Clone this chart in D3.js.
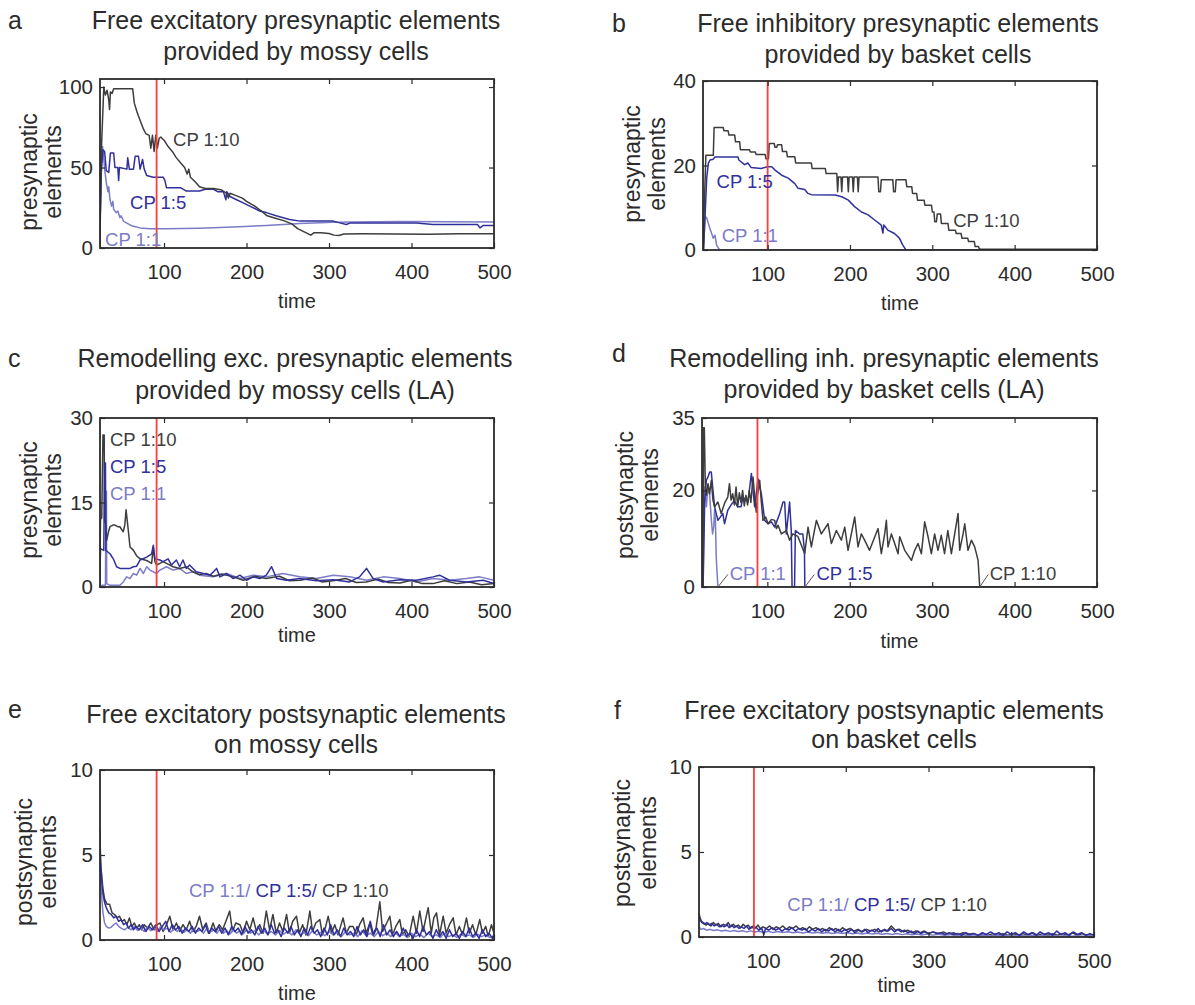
<!DOCTYPE html>
<html>
<head>
<meta charset="utf-8">
<script src="https://cdn.jsdelivr.net/npm/d3@7"></script>
<style>
  body { margin: 0; background: #fff; }
  svg { display: block; font-family: "Liberation Sans", Arial, Helvetica, sans-serif; }
</style>
</head>
<body>
<svg id="chart" width="1195" height="1005"></svg>
<script>
// ---- data: [time, elements] ----
const xTicks = [100, 200, 300, 400, 500];

// a: free excitatory presynaptic elements (mossy cells)
const aTicksY = [0, 50, 100];
const aCp10 = [[22,0],[24,60],[27,100],[29,95],[31,98],[33,92],[34,86],[35,97],[37,96],[39,99],[62,99],[64,90],[67,85],[69,82],[72,78],[75,74],[78,71],[82,70],[84,62],[86,70],[88,60],[90,70],[92,62],[94,68],[96,69],[100,67],[105,63],[110,60],[115,56],[120,53],[125,50],[128,46],[130,49],[132,44],[138,41],[143,38],[150,37],[160,37],[170,36],[176,34],[178,31],[180,34],[185,33],[195,31],[200,29],[210,26],[218,23],[225,20],[235,18.5],[245,17],[255,15],[262,12],[270,10],[278,8],[282,9.5],[290,9.4],[300,9],[306,8],[312,7.8],[318,8.7],[340,8.8],[380,8.7],[420,8.6],[460,8.8],[500,8.8]];
const aCp5 = [[22,0],[24,47],[26,61],[28,60],[30,48],[33,47],[35,59],[39,59],[40.5,50],[44,50],[45,42],[46,50],[55,49],[56,56],[58,49],[63,49],[65,57],[69,57],[71,49],[74,55],[76,49],[79,45],[87,44],[99,44],[101,42],[103,37.5],[120,37.5],[127,35.4],[143,35.4],[150,36.5],[160,36.5],[165,35],[172,35],[175,30],[176,35],[180,32],[188,30],[196,28],[204,26],[216,23],[224,22],[236,20],[252,17.7],[265,16.7],[305,16.7],[313,15.6],[321,14.6],[326,15.6],[406,15.6],[426,14.6],[480,14.6],[483,12.5],[487,14],[500,14]];
const aCp1 = [[22,0],[24,57],[25.5,63],[27,55],[28.5,47],[30.5,39],[32,35],[33,38],[34.5,30],[36.5,26],[38,29],[39,24],[42,22],[44,23],[46.5,19],[48,20],[51,16.5],[55,15.5],[60,14],[63,13.5],[71,12.5],[83,12],[103,12],[143,12.3],[184,13],[224,14],[265,15.2],[305,16],[386,16.5],[500,16.2]];

// b: free inhibitory presynaptic elements (basket cells)
const bTicksY = [0, 20, 40];
const bCp10 = [[22,0],[23,10],[25,22.4],[34,22.4],[35,29],[46,29],[47,28.2],[52,28.2],[53,27.2],[60,27.2],[61,25.6],[66,25.6],[67,23.7],[78,23.7],[79,23.2],[85,23.2],[86,22.6],[97,22.6],[98,21.6],[101,21.6],[102,25.2],[108,25.2],[109,24.3],[111,24.3],[112,24.9],[117,24.9],[118,23.3],[123,23.3],[124,22.1],[133,22.1],[134,20.6],[153,20.6],[154,19.3],[170,19.3],[171,18.1],[184,18.1],[185,13.8],[186,17.3],[189,17.3],[190,13.8],[191,17.3],[197,17.3],[198,13.8],[199,17.3],[203,17.3],[204,13.8],[205,17.3],[209,17.3],[210,13.8],[211,17.3],[234,17.3],[235,13.8],[237,13.8],[238,16.6],[252,16.6],[253,13.8],[255,13.8],[256,16.6],[268,16.6],[269,15],[275,15],[276,13.4],[281,13.4],[282,11.8],[290,11.8],[291,10.6],[299,10.6],[300,9],[302,9],[303,6.7],[305,6.7],[306,8.5],[310,8.5],[311,6.3],[319,6.3],[320,4.7],[328,4.7],[329,3.9],[335,3.9],[336,2.8],[343,2.8],[344,2],[351,2],[352,0.8],[356,0.8],[357,0.3],[360,0.15],[500,0.15]];
const bCp5 = [[22,0],[24,8],[26,17],[28,20.5],[30,21.3],[34,21.5],[36,22],[64,22],[65,21.3],[72,20.2],[76,20.6],[80,19.5],[92,19.3],[100,19.7],[105,19.7],[109,18.9],[117,17.7],[125,17],[133,15.7],[137,14.6],[145,14.3],[149,13.4],[153,13.1],[182,13],[190,12.6],[198,11.8],[206,10.2],[214,9],[222,8.3],[230,7.1],[238,5.9],[240,4],[241,5.9],[246,4.7],[254,3.9],[260,2.8],[264,1.2],[268,0],[500,0]];
const bCp1 = [[22,0],[24,7.9],[26,7.6],[28,6.3],[30,5],[32,3.9],[34,2.8],[36,3.5],[38,1.2],[40,0.5],[42,0],[500,0]];

// c: remodelling exc. presynaptic elements (mossy cells, LA)
const cTicksY = [0, 15, 30];
const cCp10 = [[22,0],[23,12],[24.5,12.3],[26,27],[27.5,27],[28,11.5],[29,12],[30.5,8.3],[33,10],[34.5,10.7],[38,11],[40.5,11],[44,10.7],[46.5,10.7],[50.5,9.8],[52.5,11],[54,13.7],[56,11],[58.8,7.1],[63,6.5],[67,5.5],[71,5],[79,4.7],[85,4.2],[87,7.1],[89,4.5],[91,3.9],[95,4.2],[99,4.5],[103,4.2],[111,3.6],[119,3.3],[127,3.6],[135,2.7],[143,2.2],[151,2.4],[160,1.9],[170,2.3],[184,1.8],[196,1.2],[210,1.9],[224,1.5],[240,1.9],[252,1.1],[265,1.2],[280,1.6],[292,0.9],[305,1.1],[320,1.5],[333,0.8],[345,0.9],[360,1.4],[372,0.8],[386,0.7],[400,1.2],[413,0.6],[426,0.6],[440,1.1],[455,0.6],[470,0.9],[485,0.4],[500,0.6]];
const cCp5 = [[22,0],[23,6.8],[27,6.5],[28,22],[29,22],[29.5,6.5],[34.5,5.9],[38.5,5],[42.5,3.6],[46.5,3.3],[58.8,3.3],[62.8,3.6],[66.8,3.7],[71,4.8],[79,5.3],[85,5.9],[87,7.4],[89,5],[95,4.8],[99,4.5],[105,5],[109,3.9],[115,4.8],[119,3.6],[123,4.8],[127,3.3],[131,3.9],[139,2.7],[147.6,2.4],[155.7,2.1],[163.8,3.3],[167.8,1.8],[176,2.4],[184,1.5],[192,2.1],[200,1.2],[208,1.8],[216,1.5],[224,2.1],[230.4,3.6],[236.5,1.5],[248.6,1.2],[264.6,1.5],[284.8,1.1],[305,1.3],[325,0.9],[337,1.8],[345.5,3.3],[353.5,1.5],[365.6,0.9],[386,1.3],[406,1.2],[426,1.8],[434,2.1],[446,1.2],[466.6,0.9],[486.8,1.2],[500,0.6]];
const cCp1 = [[22,0],[25,0.3],[29,0.3],[29.7,17],[30.2,17],[30.5,0.6],[34.5,0.3],[46.6,0.3],[50.7,0.9],[54.6,1.8],[58.8,1.5],[62.8,2.4],[66.8,2.1],[71,3.3],[75,2.4],[79,3.6],[83,3],[91,2.4],[95,3],[103,3.6],[111,3],[119,3.3],[127,2.4],[135,2.7],[143,2.1],[159.5,1.8],[175.6,2.4],[192,1.5],[208,2.1],[224,1.8],[244,2.4],[264.6,1.8],[284.8,1.5],[305,2.1],[325,1.8],[345.5,1.2],[365.6,1.8],[386,1.5],[406,0.9],[426,1.5],[446,1.2],[466.6,1.5],[482.7,1.8],[500,1.2]];

// d: remodelling inh. presynaptic elements (basket cells, LA)
const dTicksY = [0, 20, 35];
const dCp10 = [[22,0],[22.5,33],[23.5,33],[24.8,20.7],[26,19],[28,21.4],[30,19.3],[32,22.1],[34,18],[36,16.6],[40,17.6],[44,15.2],[48,17.3],[52,18.6],[54,21.4],[56,18],[58,19.3],[60,17],[62,20.7],[64,16.6],[66,19.5],[68,17.5],[70,20],[72,16.8],[74,19],[76,17],[78,20],[80,17.5],[82.6,22.8],[85,18],[86.6,15.5],[88,19],[90.7,22.1],[92.5,18],[94.7,13.8],[98,14.5],[100.8,13.1],[105,14],[108.9,13.8],[111,12.1],[113,12.8],[117,11],[123,11.7],[127,9.7],[131,11],[137,10.5],[145.3,6.9],[149.4,12.4],[153.4,8.3],[159.5,13.8],[165.5,11],[173.6,13.1],[177.7,9],[183.7,11.7],[189.8,9.7],[193.9,12.4],[197.9,7.6],[206,14.5],[210,8.3],[214,11],[218,9.7],[224,7.6],[234.3,12.1],[238.3,6.9],[242.4,11],[244.4,13.8],[246.4,8.3],[250.5,11],[254.5,9],[258.6,6.9],[260.6,10.4],[266.7,7.6],[274.8,5.5],[278.8,7.6],[282.8,9],[286.9,6.9],[290.9,13.5],[295,10.4],[299,6.9],[303,11],[307,7.6],[311,10.7],[315,6.9],[319,11.7],[323.3,6.9],[331.4,15.2],[333.4,7.6],[337.5,11],[339.5,13.1],[343.5,7.6],[347.6,9.7],[351.6,8.3],[355.7,5.5],[357.7,0],[500,0]];
const dCp5 = [[22,0],[24,18],[26,22.1],[28,22.8],[30,23.8],[32,23.8],[34,20],[36,16.6],[40,13.8],[46,15.2],[48,13.1],[52,15.9],[56,17],[60,17.9],[64,16.6],[68,16.6],[70.5,18.6],[76.5,17.6],[80.6,23.5],[84.6,16.6],[88.7,22.4],[92.7,19.3],[96.8,13.8],[100.8,13.1],[104.9,13.5],[108.9,12.4],[115,15.2],[119,17.6],[121,17.6],[123,11],[127,17.6],[129,11.7],[130,0],[133,0],[134,11.7],[139,11],[143,11],[145,7.6],[145.5,0],[500,0]];
const dCp1 = [[22,0],[23,15],[24,20.7],[26,16.6],[28,21],[30,19],[32,14],[33.5,11],[35,12.5],[36,16],[37,13.8],[38,6],[40,0],[500,0]];
const dLeaders = [[[40,0],[52,2.6]], [[145.5,0],[157,2.6]], [[357.7,0],[368,2.6]]];

// e: free excitatory postsynaptic elements on mossy cells
const eTicksY = [0, 5, 10];
const eCp10 = [[22,4.5],[24,4],[26,3],[28,2.4],[31,2.1],[34,2.1],[37,1.6],[40,1.5],[43,1.3],[46,1.4],[49,1.1],[52,1.2],[55,0.9],[58,1.3],[61,0.8],[64,1],[67,0.7],[70,0.9],[73,0.6],[76,0.9],[80,0.7],[84,1],[88,0.6],[92,0.9],[95,1],[99,0.5],[103,0.9],[107,1.4],[111,0.6],[115,1],[119,0.5],[123,0.9],[127,0.6],[131,1.1],[135,0.5],[139,0.8],[143,1.4],[147,0.6],[151,1],[155,0.4],[159.5,1],[163,0.5],[167,0.9],[171,0.6],[175,1.1],[179.6,1.7],[183,0.5],[187,1],[192,0.9],[196,0.4],[200,1.1],[204,0.6],[208,1.3],[212,0.5],[216,0.9],[220,0.4],[224,1.7],[228,0.6],[232,1.5],[236,0.4],[240,1],[244,0.5],[248.6,1.5],[252,0.4],[256,1.1],[260.6,1.4],[264,0.4],[268,0.9],[272,0.3],[276.8,1.7],[280,0.5],[284,1],[288.9,1.2],[292,0.3],[296,0.8],[299,1.4],[303,0.4],[307,0.9],[311,0.3],[317,1.3],[321,0.4],[325,0.8],[329.3,0.8],[333,0.3],[337,0.9],[341.4,1.3],[345,0.4],[349.5,1],[353,0.3],[357,0.7],[361.6,2.25],[365,0.5],[369,0.9],[373.7,1.4],[377,0.3],[381,0.8],[385.8,1.2],[389,0.3],[393,0.6],[397,0.2],[402,1.4],[406,0.4],[410,1.7],[414,0.5],[417,1.2],[420.2,1.9],[424,0.4],[427,1.3],[430.3,1.6],[434,0.3],[438.4,1.4],[442,0.4],[446,0.9],[450.5,1.3],[454,0.3],[458,0.8],[462,0.3],[466.6,1.3],[470,0.4],[474,0.9],[478,0.3],[482.7,1.2],[486,0.4],[490,0.8],[493,0.2],[496.9,0.9],[500,0.4]];
const eCp5 = [[22,6.7],[23,5],[24.5,3.5],[26,2.7],[28,2.2],[30,1.9],[33,1.6],[36,1.5],[39,1.3],[42,1.4],[45,1.1],[48,1.2],[51,0.9],[54,1],[57,0.7],[60,0.9],[63,0.6],[66,0.8],[70,0.6],[74,0.9],[78,0.5],[82,0.8],[86,0.6],[90,0.9],[94,0.5],[98,0.8],[102,1.1],[106,0.5],[110,0.9],[114,0.6],[118,0.8],[122,0.4],[126,0.7],[130,0.5],[134,0.8],[138,0.4],[142,0.7],[146,0.5],[150,0.9],[154,0.4],[158,0.7],[162,0.5],[166,0.8],[170,0.4],[174,0.7],[178,0.3],[182,0.8],[186,0.5],[190,0.7],[194,0.3],[198,0.8],[202,0.4],[206,0.6],[210,0.3],[214,0.8],[218,0.4],[222,0.7],[226,0.3],[230,0.9],[234,0.4],[238,0.6],[242,0.2],[246,0.7],[250,0.4],[254,0.8],[258,0.3],[262,0.6],[266,0.2],[270,0.7],[274,0.3],[278,0.8],[282,0.4],[286,0.6],[290,0.2],[294,0.7],[298,0.3],[302,0.9],[306,0.3],[310,0.6],[314,0.2],[318,0.7],[322,0.3],[326,0.5],[330,0.2],[334,0.8],[338,0.3],[342,0.6],[346,0.2],[350,1.1],[354,0.3],[358,0.7],[362,0.2],[366,0.9],[370,0.3],[374,0.6],[378,0.2],[382,0.5],[386,0.2],[390,0.7],[394,0.2],[398,0.4],[402,0.1],[406,0.6],[410,0.2],[414,0.8],[418,0.3],[422,0.5],[426,0.1],[430,0.6],[434,0.2],[438,0.5],[442,0.1],[446,0.6],[450,0.2],[454,0.4],[458,0.1],[462,0.5],[466,0.2],[470,0.7],[474,0.2],[478,0.4],[482,0.1],[486,0.6],[490,0.2],[494,0.4],[498,0.1],[500,0.3]];
const eCp1 = [[22,6],[23,4],[24.5,2.5],[26,1.6],[28,1],[30,0.8],[33,0.7],[36,0.75],[39,0.9],[42,1],[45,0.8],[48,0.7],[52,0.6],[56,0.75],[60,0.6],[64,0.8],[68,0.55],[72,0.7],[76,0.5],[80,0.75],[84,0.55],[88,0.7],[92,0.5],[96,0.8],[100,0.6],[104,0.7],[108,0.45],[112,0.65],[116,0.5],[120,0.7],[124,0.45],[128,0.6],[132,0.4],[136,0.65],[140,0.5],[144,0.6],[148,0.4],[152,0.7],[156,0.45],[160,0.6],[164,0.4],[168,0.65],[172,0.4],[176,0.55],[180,0.35],[184,0.6],[188,0.4],[192,0.55],[196,0.35],[200,0.6],[205,0.4],[210,0.55],[215,0.3],[220,0.6],[225,0.35],[230,0.5],[235,0.3],[240,0.55],[245,0.35],[250,0.5],[255,0.3],[260,0.6],[265,0.3],[270,0.45],[275,0.25],[280,0.55],[285,0.3],[290,0.45],[295,0.25],[300,0.5],[305,0.3],[310,0.45],[315,0.2],[320,0.5],[325,0.3],[330,0.4],[335,0.2],[340,0.55],[345,0.25],[350,0.4],[355,0.2],[360,0.5],[365,0.25],[370,0.4],[375,0.2],[380,0.45],[385,0.2],[390,0.35],[395,0.15],[400,0.4],[405,0.2],[410,0.35],[415,0.15],[420,0.4],[425,0.2],[430,0.3],[435,0.15],[440,0.4],[445,0.2],[450,0.3],[455,0.15],[460,0.35],[465,0.2],[470,0.3],[475,0.15],[480,0.35],[485,0.2],[490,0.3],[495,0.15],[500,0.25]];

// f: free excitatory postsynaptic elements on basket cells
const fTicksY = [0, 5, 10];
const fCp10 = [[22.6,1.4],[24,1.1],[26,0.9],[28,0.85],[31,0.7],[34,0.8],[37,0.65],[40,0.85],[43,0.7],[46,0.8],[49,0.6],[52,0.75],[55,0.65],[58,0.85],[61,0.6],[64,0.75],[67,0.6],[70,0.7],[73,0.55],[76,0.75],[79,0.6],[82,0.7],[85,0.5],[88,0.65],[91,0.55],[94,0.7],[97,0.45],[100,0.6],[104,0.5],[108,0.65],[112,0.45],[116,0.6],[120,0.5],[124,0.65],[128,0.45],[132,0.6],[136,0.5],[140,0.65],[144,0.45],[148,0.55],[152,0.4],[156,0.6],[160,0.45],[164,0.55],[168,0.4],[172,0.5],[176,0.35],[180,0.55],[184,0.4],[188,0.5],[192,0.35],[196,0.55],[200,0.4],[205,0.5],[210,0.35],[215,0.45],[220,0.3],[225,0.45],[230,0.35],[235,0.45],[240,0.3],[245,0.4],[250,0.35],[255,0.65],[260,0.4],[265,0.45],[270,0.3],[275,0.4],[280,0.25],[285,0.35],[290,0.25],[295,0.35],[300,0.2],[306,0.3],[312,0.2],[318,0.3],[324,0.15],[330,0.25],[336,0.15],[342,0.25],[348,0.15],[354,0.2],[360,0.1],[366,0.2],[372,0.1],[378,0.2],[384,0.1],[390,0.2],[396,0.1],[402,0.2],[408,0.1],[414,0.2],[420,0.1],[426,0.25],[432,0.1],[438,0.2],[444,0.1],[450,0.2],[456,0.1],[462,0.2],[468,0.1],[474,0.25],[480,0.1],[486,0.2],[492,0.1],[500,0.15]];
const fCp5 = [[22.6,1.2],[24,1],[26,0.85],[29,0.75],[32,0.85],[35,0.7],[38,0.8],[41,0.65],[44,0.75],[47,0.6],[50,0.7],[53,0.6],[56,0.75],[59,0.55],[62,0.7],[65,0.55],[68,0.65],[71,0.5],[74,0.6],[77,0.5],[80,0.65],[83,0.45],[86,0.6],[89,0.5],[92,0.55],[95,0.4],[98,0.55],[101,0.15],[103,0.5],[107,0.4],[111,0.55],[115,0.4],[119,0.5],[123,0.35],[127,0.5],[131,0.4],[135,0.55],[139,0.35],[143,0.5],[147,0.4],[151,0.5],[155,0.3],[159,0.45],[163,0.35],[167,0.5],[171,0.3],[175,0.45],[179,0.35],[183,0.5],[187,0.3],[191,0.45],[195,0.3],[199,0.45],[203,0.3],[207,0.45],[211,0.25],[215,0.4],[219,0.3],[223,0.45],[227,0.25],[231,0.4],[235,0.3],[239,0.5],[243,0.3],[247,0.45],[251,0.35],[255,0.5],[259,0.3],[263,0.45],[267,0.3],[271,0.4],[275,0.25],[279,0.35],[283,0.2],[287,0.35],[291,0.2],[295,0.3],[300,0.2],[305,0.3],[310,0.2],[315,0.25],[320,0.15],[325,0.25],[330,0.15],[335,0.2],[340,0.1],[345,0.25],[350,0.15],[355,0.2],[360,0.1],[365,0.25],[370,0.15],[375,0.3],[380,0.15],[385,0.25],[390,0.1],[395,0.3],[400,0.15],[405,0.25],[410,0.1],[415,0.3],[420,0.15],[425,0.25],[430,0.1],[435,0.3],[440,0.15],[445,0.25],[450,0.1],[455,0.35],[460,0.15],[465,0.25],[470,0.1],[475,0.3],[480,0.15],[485,0.25],[490,0.1],[495,0.2],[500,0.1]];
const fCp1 = [[22.6,0.6],[25,0.45],[28,0.5],[32,0.4],[36,0.45],[40,0.38],[45,0.42],[50,0.35],[55,0.4],[60,0.33],[65,0.38],[70,0.32],[75,0.37],[80,0.3],[85,0.36],[90,0.3],[95,0.34],[100,0.28],[106,0.33],[112,0.27],[118,0.32],[124,0.26],[130,0.31],[136,0.25],[142,0.3],[148,0.24],[154,0.29],[160,0.23],[166,0.28],[172,0.22],[178,0.27],[184,0.21],[190,0.26],[196,0.2],[202,0.25],[208,0.19],[214,0.24],[220,0.18],[226,0.23],[232,0.17],[238,0.22],[244,0.16],[250,0.21],[256,0.15],[262,0.2],[268,0.14],[274,0.19],[280,0.13],[286,0.18],[292,0.12],[298,0.17],[305,0.11],[312,0.16],[319,0.1],[326,0.15],[333,0.09],[340,0.14],[347,0.08],[354,0.13],[361,0.08],[368,0.12],[375,0.07],[382,0.12],[389,0.07],[396,0.11],[403,0.06],[410,0.11],[417,0.06],[424,0.1],[431,0.05],[438,0.1],[445,0.05],[452,0.09],[459,0.05],[466,0.09],[473,0.04],[480,0.08],[487,0.04],[494,0.07],[500,0.05]];

// time of the red marker in each panel
const redTimes = { a: 91, b: 100, c: 91, d: 88, e: 91, f: 89 };

const colors = { cp1: "#7b7bc8", cp5: "#30309c", cp10: "#3d3d3d" };
const textColor = "#2b2b2b";

const svg = d3.select("#chart");

// layout of each panel in pixels
const panels = [
  { id: "a", box: [100, 79, 494, 248], xd: [22.4, 500], yd: [0, 105], yTicks: aTicksY,
    title: ["Free excitatory presynaptic elements", "provided by mossy cells"], tx: 296, ty: [29, 60],
    letter: [8, 29], ylab: ["presynaptic", "elements"], yl: [37, 61, 172], timeY: 60,
    series: [[aCp1, "cp1"], [aCp5, "cp5"], [aCp10, "cp10"]],
    labels: [["CP 1:10", "cp10", 111, 63.5], ["CP 1:5", "cp5", 58.8, 24.4], ["CP 1:1", "cp1", 28.5, 1.5]] },
  { id: "b", box: [703, 81, 1097, 250], xd: [21.5, 500], yd: [0, 40], yTicks: bTicksY,
    title: ["Free inhibitory presynaptic elements", "provided by basket cells"], tx: 898, ty: [32, 63],
    letter: [612, 32], ylab: ["presynaptic", "elements"], yl: [640, 665, 164], timeY: 60,
    series: [[bCp1, "cp1"], [bCp5, "cp5"], [bCp10, "cp10"]],
    labels: [["CP 1:5", "cp5", 38, 14.6], ["CP 1:1", "cp1", 44.2, 2], ["CP 1:10", "cp10", 325.3, 5.5]] },
  { id: "c", box: [100, 418, 494, 587], xd: [22.4, 500], yd: [0, 30], yTicks: cTicksY,
    title: ["Remodelling exc. presynaptic elements", "provided by mossy cells (LA)"], tx: 295, ty: [367, 399],
    letter: [8, 367], ylab: ["presynaptic", "elements"], yl: [37, 61, 500], timeY: 55,
    series: [[cCp1, "cp1"], [cCp10, "cp10"], [cCp5, "cp5"]],
    labels: [["CP 1:10", "cp10", 34.5, 25], ["CP 1:5", "cp5", 34.5, 20.2], ["CP 1:1", "cp1", 34.5, 15.4]] },
  { id: "d", box: [702, 418, 1097, 587], xd: [20.7, 500], yd: [0, 35], yTicks: dTicksY,
    title: ["Remodelling inh. presynaptic elements", "provided by basket cells (LA)"], tx: 884, ty: [367, 398],
    letter: [612, 362], ylab: ["postsynaptic", "elements"], yl: [633, 658, 495], timeY: 61,
    series: [[dCp1, "cp1"], [dCp5, "cp5"], [dCp10, "cp10"]], leaders: dLeaders,
    labels: [["CP 1:1", "cp1", 54.3, 1.4], ["CP 1:5", "cp5", 159.5, 1.4], ["CP 1:10", "cp10", 369.8, 1.4]] },
  { id: "e", box: [100, 770, 494, 940], xd: [22.4, 500], yd: [0, 10], yTicks: eTicksY,
    title: ["Free excitatory postsynaptic elements", "on mossy cells"], tx: 296, ty: [723, 753],
    letter: [8, 718], ylab: ["postsynaptic", "elements"], yl: [32, 56, 862], timeY: 60,
    series: [[eCp10, "cp10"], [eCp1, "cp1"], [eCp5, "cp5"]],
    combo: [130.3, 2.55] },
  { id: "f", box: [699, 767, 1094, 937], xd: [22.6, 500], yd: [0, 10], yTicks: fTicksY,
    title: ["Free excitatory postsynaptic elements", "on basket cells"], tx: 894, ty: [719, 748],
    letter: [614, 719], ylab: ["postsynaptic", "elements"], yl: [630, 656, 843], timeY: 55,
    series: [[fCp10, "cp10"], [fCp1, "cp1"], [fCp5, "cp5"]],
    combo: [129.4, 1.54] }
];

panels.forEach(function (p) {
  const [x0, y0, x1, y1] = p.box;
  const x = d3.scaleLinear().domain(p.xd).range([x0, x1]);
  const y = d3.scaleLinear().domain(p.yd).range([y1, y0]);
  const g = svg.append("g").attr("class", "panel-" + p.id);

  // clip the traces to the axes box
  g.append("clipPath").attr("id", "clip-" + p.id)
    .append("rect").attr("x", x0).attr("y", y0).attr("width", x1 - x0).attr("height", y1 - y0);

  const line = d3.line().x(d => x(d[0])).y(d => y(d[1]));
  const traces = g.append("g").attr("clip-path", "url(#clip-" + p.id + ")");
  p.series.forEach(function (s) {
    traces.append("path")
      .datum(s[0])
      .attr("d", line)
      .attr("fill", "none")
      .attr("stroke", colors[s[1]])
      .attr("stroke-width", 1.5)
      .attr("stroke-linejoin", "round");
  });

  // red marker line
  traces.append("line")
    .attr("x1", x(redTimes[p.id])).attr("x2", x(redTimes[p.id]))
    .attr("y1", y0).attr("y2", y1)
    .attr("stroke", "#ff3b3b").attr("stroke-width", 1.8);

  // axes, ticks pointing inwards like matlab
  const ax = function (sel) {
    sel.selectAll(".domain").remove();
    sel.selectAll("line").attr("stroke", textColor).attr("stroke-width", 1.2);
    sel.selectAll("text").attr("fill", textColor).style("font-size", "20.5px");
  };
  g.append("g").attr("transform", `translate(0,${y1})`)
    .call(d3.axisBottom(x).tickValues(xTicks).tickSize(-5).tickPadding(16).tickFormat(d3.format("d")))
    .call(ax);
  g.append("g").attr("transform", `translate(0,${y0})`)
    .call(d3.axisTop(x).tickValues(xTicks).tickSize(-5).tickFormat(""))
    .call(ax);
  g.append("g").attr("transform", `translate(${x0},0)`)
    .call(d3.axisLeft(y).tickValues(p.yTicks).tickSize(-5).tickPadding(7).tickFormat(d3.format("d")))
    .call(ax);
  g.append("g").attr("transform", `translate(${x1},0)`)
    .call(d3.axisRight(y).tickValues(p.yTicks).tickSize(-5).tickFormat(""))
    .call(ax);
  g.selectAll("g").attr("font-family", null).attr("font-size", null);

  g.append("rect")
    .attr("x", x0).attr("y", y0).attr("width", x1 - x0).attr("height", y1 - y0)
    .attr("fill", "none").attr("stroke", textColor).attr("stroke-width", 1.8);

  // series labels
  (p.leaders || []).forEach(function (l) {
    g.append("path").datum(l).attr("d", line)
      .attr("fill", "none").attr("stroke", "#555").attr("stroke-width", 1);
  });
  (p.labels || []).forEach(function (l) {
    g.append("text")
      .attr("x", x(l[2])).attr("y", y(l[3]))
      .attr("fill", colors[l[1]])
      .style("font-size", "18.5px")
      .text(l[0]);
  });
  if (p.combo) {
    const t = g.append("text")
      .attr("x", x(p.combo[0])).attr("y", y(p.combo[1]))
      .style("font-size", "18.5px");
    t.append("tspan").attr("fill", colors.cp1).text("CP 1:1/ ");
    t.append("tspan").attr("fill", colors.cp5).text("CP 1:5/ ");
    t.append("tspan").attr("fill", colors.cp10).text("CP 1:10");
  }

  // titles and axis labels
  p.title.forEach(function (s, i) {
    g.append("text")
      .attr("x", p.tx).attr("y", p.ty[i])
      .attr("text-anchor", "middle")
      .attr("fill", textColor)
      .style("font-size", "25px")
      .text(s);
  });
  g.append("text")
    .attr("x", p.letter[0]).attr("y", p.letter[1])
    .attr("fill", textColor).style("font-size", "25px")
    .text(p.id);
  g.append("text")
    .attr("x", (x0 + x1) / 2).attr("y", y1 + p.timeY)
    .attr("text-anchor", "middle")
    .attr("fill", textColor).style("font-size", "20px")
    .text("time");
  p.ylab.forEach(function (s, i) {
    g.append("text")
      .attr("transform", `translate(${p.yl[i]},${p.yl[2]}) rotate(-90)`)
      .attr("text-anchor", "middle")
      .attr("fill", textColor).style("font-size", "23px")
      .text(s);
  });
});
</script>
</body>
</html>
